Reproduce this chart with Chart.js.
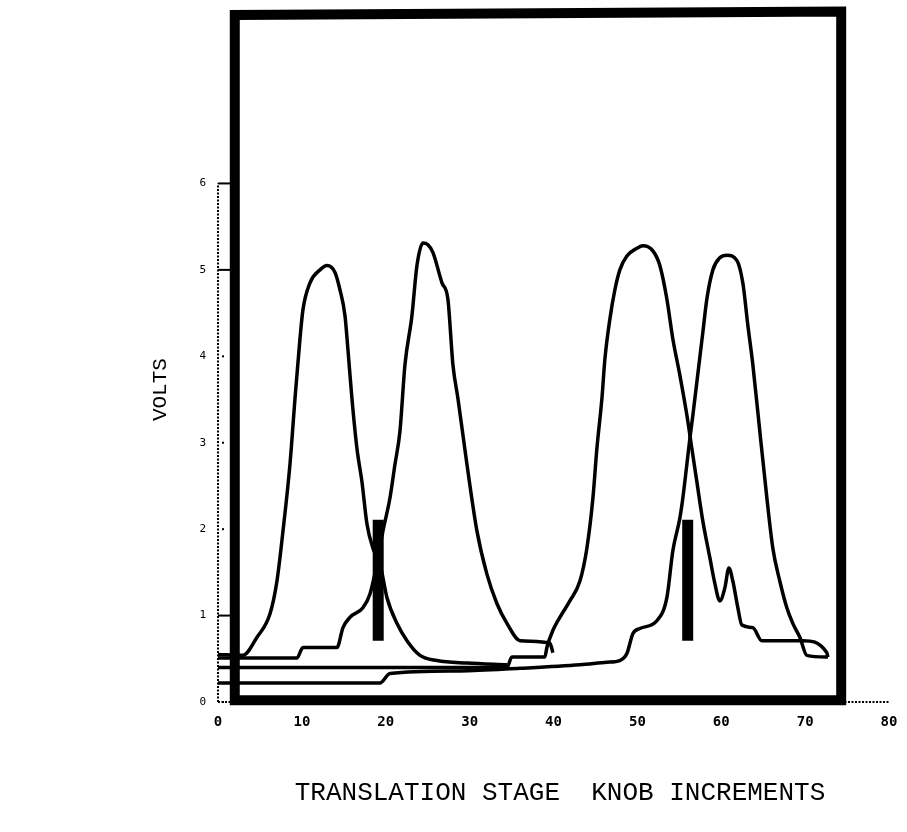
<!DOCTYPE html>
<html><head><meta charset="utf-8">
<style>html,body{margin:0;padding:0;background:#fff;}#wrap{width:907px;height:832px;}</style>
<script src="https://cdn.jsdelivr.net/npm/chart.js@4.4.1/dist/chart.umd.min.js"></script>
</head><body><div id="wrap"><canvas id="c" width="907" height="832"></canvas></div>
<script>
// ---- data (translation stage knob increments vs volts) ----
const xTickValues = [0, 10, 20, 30, 40, 50, 60, 70, 80];
const yTickValues = [0, 1, 2, 3, 4, 5, 6];

const aX = [0, 2.98, 4.65, 6.20, 7.03, 7.75, 8.58, 9.18, 9.77, 10.13, 10.97, 12.16, 12.99, 13.95, 14.54, 15.14, 15.49, 15.97, 16.57, 17.16, 17.76, 18.47, 19.31, 20.14, 21.33, 22.53, 24.08, 26.10, 29.68, 34.45];
const aV = [0.55, 0.54, 0.75, 1.02, 1.40, 1.98, 2.75, 3.51, 4.20, 4.54, 4.85, 5.00, 5.05, 4.97, 4.77, 4.47, 4.08, 3.51, 2.93, 2.55, 2.06, 1.78, 1.60, 1.21, 0.91, 0.71, 0.54, 0.48, 0.45, 0.43];

const bX = [0, 9.42, 10.13, 14.18, 14.90, 15.73, 17.28, 18.12, 18.95, 19.67, 20.50, 21.10, 21.69, 22.29, 23.12, 23.72, 24.43, 25.03, 25.63, 26.70, 27.41, 28.01, 28.61, 29.68, 30.87, 32.06, 33.25, 34.45, 36.00, 39.57, 39.93];
const bV = [0.51, 0.51, 0.63, 0.63, 0.86, 0.98, 1.09, 1.25, 1.60, 1.98, 2.36, 2.75, 3.13, 3.90, 4.47, 5.05, 5.31, 5.29, 5.20, 4.85, 4.66, 3.90, 3.51, 2.75, 1.98, 1.48, 1.14, 0.91, 0.71, 0.68, 0.57];

const cX = [0, 34.45, 35.04, 38.97, 39.21, 39.93, 40.76, 41.95, 43.15, 43.98, 44.70, 45.17, 45.77, 46.13, 46.72, 47.32, 47.91, 48.75, 49.94, 50.66, 51.85, 52.68, 53.52, 54.23, 55.07, 55.90, 56.50, 57.09, 57.81, 58.64, 59.24, 59.83, 60.43, 60.91, 61.38, 61.98, 62.46, 63.77, 64.84, 69.73, 72.59, 72.71];
const cV = [0.40, 0.40, 0.52, 0.52, 0.63, 0.83, 0.98, 1.17, 1.40, 1.78, 2.36, 2.93, 3.51, 3.97, 4.43, 4.77, 5.00, 5.16, 5.25, 5.28, 5.22, 5.05, 4.66, 4.20, 3.78, 3.32, 2.93, 2.55, 2.09, 1.67, 1.37, 1.17, 1.32, 1.55, 1.40, 1.09, 0.89, 0.86, 0.71, 0.71, 0.57, 0.52];

const dX = [0, 19.31, 20.50, 28.84, 36.0, 43.15, 46.36, 47.91, 48.75, 49.46, 50.30, 52.32, 53.52, 54.23, 55.07, 55.42, 55.90, 56.26, 56.62, 57.09, 57.81, 58.28, 59.00, 59.83, 60.67, 61.86, 62.57, 63.17, 63.77, 64.60, 65.44, 66.15, 66.98, 67.82, 68.53, 69.37, 70.20, 72.71];
const dV = [0.22, 0.22, 0.33, 0.36, 0.39, 0.43, 0.46, 0.48, 0.56, 0.79, 0.85, 0.94, 1.21, 1.75, 2.13, 2.36, 2.75, 3.05, 3.32, 3.70, 4.28, 4.66, 5.00, 5.14, 5.17, 5.11, 4.85, 4.36, 3.90, 3.13, 2.36, 1.78, 1.40, 1.09, 0.91, 0.75, 0.54, 0.52];

const marker1X = [19.1, 19.1];
const marker1V = [0.71, 2.11];
const marker2X = [56.0, 56.0];
const marker2V = [0.71, 2.11];

const frameX = [2.0, 2.0, 74.3, 74.3, 2.0];
const frameV = [0.02, 7.95, 7.99, 0.02, 0.02];

const xTitle = 'TRANSLATION STAGE  KNOB INCREMENTS';
const yTitle = 'VOLTS';

// ---- build ----
const pts = (xs, vs) => xs.map((x, i) => ({x: x, y: vs[i]}));
const curve = (xs, vs) => ({data: pts(xs, vs), showLine: true, borderColor: '#000', borderWidth: 3.5, pointRadius: 0, cubicInterpolationMode: 'monotone', fill: false});
const straight = (xs, vs, w) => ({data: pts(xs, vs), showLine: true, borderColor: '#000', borderWidth: w, pointRadius: 0, tension: 0, fill: false, borderJoinStyle: 'miter'});

const frameDs = straight(frameX, frameV, 10);
frameDs.borderCapStyle = 'square';
frameDs.clip = 12;

const axesPlugin = {
  id: 'axesPlugin',
  beforeDatasetsDraw(chart) {
    const ctx = chart.ctx, xs = chart.scales.x, ys = chart.scales.y;
    const ax = xs.getPixelForValue(0);
    ctx.save();
    ctx.strokeStyle = '#000';
    ctx.lineWidth = 2;
    ctx.setLineDash([2, 1.5]);
    ctx.beginPath();
    ctx.moveTo(ax, ys.getPixelForValue(0));
    ctx.lineTo(ax, ys.getPixelForValue(yTickValues[yTickValues.length - 1]));
    ctx.stroke();
    ctx.beginPath();
    ctx.moveTo(ax, ys.getPixelForValue(0));
    ctx.lineTo(xs.getPixelForValue(80), ys.getPixelForValue(0));
    ctx.stroke();
    ctx.setLineDash([]);
    yTickValues.forEach(v => {
      const py = ys.getPixelForValue(v);
      if (v === 6 || v === 5 || v === 1) {
        ctx.beginPath(); ctx.moveTo(ax, py); ctx.lineTo(ax + 13, py); ctx.stroke();
      } else {
        ctx.fillStyle = '#000'; ctx.fillRect(ax + 4, py - 1, 2, 2);
      }
    });
    ctx.restore();
  },
  afterDraw(chart) {
    const ctx = chart.ctx, a = chart.chartArea;
    ctx.save();
    ctx.fillStyle = '#000';
    ctx.textAlign = 'center';
    ctx.textBaseline = 'middle';
    ctx.font = '26px "Liberation Mono"';
    ctx.fillText(xTitle, a.left + 342, a.bottom + 91);
    ctx.translate(160, a.top + 379);
    ctx.rotate(-Math.PI / 2);
    ctx.font = '21px "Liberation Mono"';
    ctx.fillText(yTitle, 0, 0);
    ctx.restore();
  }
};

new Chart(document.getElementById('c'), {
  type: 'scatter',
  data: {datasets: [
    frameDs,
    curve(aX, aV), curve(bX, bV), curve(cX, cV), curve(dX, dV),
    straight(marker1X, marker1V, 11), straight(marker2X, marker2V, 11)
  ]},
  options: {
    responsive: false, animation: false,
    layout: {padding: {left: 0, right: 18, top: -4, bottom: 0}},
    plugins: {legend: {display: false}, tooltip: {enabled: false}, title: {display: false}},
    scales: {
      x: {
        type: 'linear', min: 0, max: 80,
        afterBuildTicks: s => { s.ticks = xTickValues.map(v => ({value: v})); },
        ticks: {color: '#000', font: {family: 'DejaVu Sans Mono', size: 14, weight: 'bold'}, padding: 4, maxRotation: 0},
        grid: {display: false}, border: {display: false},
        afterFit: s => { s.height = 130; }
      },
      y: {
        min: 0, max: 8,
        afterBuildTicks: s => { s.ticks = yTickValues.map(v => ({value: v})); },
        ticks: {color: '#000', font: {family: 'DejaVu Sans Mono', size: 11}, padding: 4},
        grid: {display: false}, border: {display: false},
        afterFit: s => { s.width = 218; }
      }
    }
  },
  plugins: [axesPlugin]
});
</script>
</body></html>
